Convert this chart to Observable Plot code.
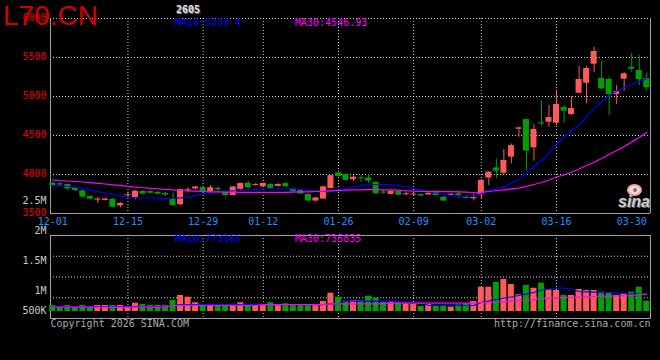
<!DOCTYPE html>
<html><head><meta charset="utf-8">
<script src="https://cdn.jsdelivr.net/npm/d3@7"></script>
<script src="https://cdn.jsdelivr.net/npm/@observablehq/plot@0.6"></script>
<style>
html,body{margin:0;padding:0;background:#000;}
#chart{position:relative;width:660px;height:360px;background:#000;overflow:hidden;font-family:"DejaVu Sans Mono",monospace;}
#chart svg{position:absolute;left:0;top:0;}
.lbl{position:absolute;font-size:10px;line-height:10px;white-space:nowrap;font-family:"DejaVu Sans Mono",monospace;}
</style></head><body><div id="chart"></div>
<script>
// ---------- data ----------
const dates = [
 "12-01","12-02","12-03","12-04","12-05","12-08","12-09","12-10","12-11","12-12",
 "12-15","12-16","12-17","12-18","12-19","12-22","12-23","12-24","12-25","12-26",
 "12-29","12-30","12-31","01-05","01-06","01-07","01-08","01-09","01-12","01-13",
 "01-14","01-15","01-16","01-19","01-20","01-21","01-22","01-23","01-26","01-27",
 "01-28","01-29","01-30","02-02","02-03","02-04","02-05","02-06","02-09","02-10",
 "02-11","02-12","02-13","02-24","02-25","02-26","02-27","03-02","03-03","03-04",
 "03-05","03-06","03-09","03-10","03-11","03-12","03-13","03-16","03-17","03-18",
 "03-19","03-20","03-23","03-24","03-25","03-26","03-27","03-30","03-31","04-01"];
const open = [
 3889,3880,3872,3830,3790,3718,3672,3668,3682,3598, 3728,3703,3782,3780,3770,3756,3690,3612,3792,3815,
 3832,3778,3822,3772,3732,3810,3888,3860,3842,3872, 3848,3885,3815,3795,3745,3660,3685,3820,4020,4000,
 3935,3958,3955,3900,3775,3745,3782,3740,3736,3742, 3738,3785,3710,3735,3752,3720,3690,3740,3955,4085,
 4017,4222,4580,4705,4342,4662,4670,4658,4860,4770, 5042,5170,5414,5231,5218,5026,5222,5376,5333,5231];
const high = [
 3900,3898,3880,3842,3800,3730,3705,3692,3690,3640, 3775,3792,3795,3790,3782,3772,3765,3812,3830,3845,
 3840,3858,3842,3790,3845,3890,3908,3885,3890,3880, 3885,3890,3825,3800,3752,3708,3850,3990,4045,4005,
 3985,3990,4000,3905,3795,3790,3790,3768,3760,3752, 3765,3790,3715,3752,3790,3725,3745,3935,4035,4200,
 4320,4390,4605,4710,4640,4940,4885,5085,4885,5000, 5385,5385,5632,5449,5248,5140,5304,5555,5526,5304];
const low = [
 3850,3842,3790,3780,3700,3670,3630,3660,3575,3573, 3700,3676,3738,3752,3738,3720,3592,3600,3772,3810,
 3770,3770,3770,3712,3725,3800,3818,3850,3838,3810, 3840,3835,3768,3740,3655,3645,3680,3815,3968,3918,
 3910,3900,3885,3748,3745,3740,3730,3725,3728,3712, 3735,3722,3655,3730,3695,3688,3660,3690,3860,3945,
 3985,4137,4478,4050,4170,4620,4605,4628,4658,4755, 5035,4907,5304,5090,4756,4897,5068,5312,5140,5068];
const close = [
 3860,3866,3815,3795,3710,3684,3686,3686,3580,3628, 3740,3786,3748,3760,3748,3736,3602,3806,3804,3840,
 3775,3830,3804,3730,3840,3885,3830,3872,3885,3822, 3872,3842,3780,3750,3660,3700,3842,3985,3975,3925,
 3965,3946,3915,3753,3762,3785,3735,3752,3748,3725, 3758,3730,3660,3748,3730,3695,3705,3925,4030,4043,
 4180,4370,4598,4300,4577,4648,4730,4897,4812,4846, 5218,5359,5577,5099,5026,5064,5291,5350,5214,5112];
const ma10 = [
 3860,3853,3847,3834,3821,3802,3782,3763,3744,3725, 3709,3701,3699,3699,3696,3690,3692,3700,3712,3732,
 3752,3770,3776,3782,3789,3795,3804,3808,3812,3817, 3817,3817,3815,3808,3795,3786,3782,3786,3802,3821,
 3847,3860,3868,3872,3872,3868,3860,3840,3817,3802, 3782,3763,3744,3725,3718,3718,3725,3753,3790,3817,
 3838,3889,3932,4017,4103,4180,4274,4394,4478,4564, 4628,4744,4842,4936,5013,5068,5112,5154,5190,5228];
const ma30 = [
 3927,3923,3917,3910,3904,3897,3885,3878,3868,3860, 3847,3838,3830,3821,3815,3808,3802,3795,3791,3786,
 3782,3778,3776,3773,3773,3772,3772,3771,3771,3771, 3771,3772,3773,3776,3778,3782,3786,3791,3795,3799,
 3802,3804,3805,3805,3804,3802,3799,3791,3786,3782, 3782,3781,3781,3780,3778,3773,3769,3773,3782,3795,
 3804,3815,3825,3847,3872,3897,3930,3968,3994,4032, 4071,4116,4158,4205,4256,4308,4359,4415,4475,4540];
const volume = [
 756000,718000,756000,718000,756000,723000,756000,756000,756000,756000,
 728000,794000,772000,756000,756000,756000,839000,922000,894000,801000,
 772000,772000,772000,772000,772000,801000,756000,756000,756000,801000,
 772000,784000,756000,756000,756000,756000,822000,960000,894000,827000,
 839000,839000,910000,877000,811000,811000,801000,784000,772000,739000,
 772000,739000,739000,728000,767000,784000,822000,1060000,1060000,1138000,
 1188000,1105000,934000,1088000,1043000,1126000,1017000,1005000,922000,922000,
 1022000,1005000,1005000,977000,960000,922000,950000,977000,1060000,827000];
const volMa10 = [
 739000,739000,739000,739000,739000,739000,739000,739000,739000,739000,
 739000,739000,739000,739000,739000,739000,756000,772000,772000,772000,
 772000,772000,772000,772000,772000,772000,772000,772000,772000,772000,
 772000,772000,772000,772000,772000,772000,772000,784000,784000,827000,
 827000,827000,827000,827000,827000,827000,827000,801000,801000,801000,
 756000,756000,756000,756000,756000,756000,756000,806000,831000,855000,
 880000,897000,922000,950000,972000,1013000,1030000,1043000,1043000,1030000,
 988000,983000,977000,972000,972000,967000,955000,950000,944000,944000];
const volMa30 = [
 728000,728000,728000,728000,728000,728000,728000,728000,728000,728000,
 728000,728000,728000,728000,728000,728000,756000,756000,756000,756000,
 756000,756000,756000,756000,756000,756000,756000,756000,772000,772000,
 772000,772000,772000,772000,772000,772000,772000,784000,784000,784000,
 784000,784000,784000,784000,784000,794000,794000,794000,794000,794000,
 794000,794000,794000,794000,794000,794000,794000,806000,811000,814000,
 817000,827000,839000,847000,850000,864000,877000,884000,889000,889000,
 894000,900000,905000,910000,910000,914000,917000,922000,939000,944000];
const priceTicks = [3500, 4000, 4500, 5000, 5500, 6000];
const volTicks = [1000000, 1500000, 2000000, 2500000];
const volLowTick = [500000];
const volFloor = 656000;
const dateTicks = ["12-01","12-15","12-29","01-12","01-26","02-09","03-02","03-16","03-30"];
const symbolText = "2605";
const watermarkText = "L70.CN";
const priceLegend = ["MA10:5233.4", "MA30:4546.93"];
const volLegend = ["MA10:773165", "MA30:735835"];
const footerLeft = "Copyright 2026 SINA.COM";
const footerRight = "http://finance.sina.com.cn";

// ---------- build ----------
const RED = "#ff5a5a", GREEN = "#00a000", BLUE = "#0000ff", MAG = "#ff00ff";
const GRID = {stroke: "#c8c8c8", strokeOpacity: 1, strokeDasharray: "1,2"};
const rows = dates.map((d, i) => ({i, date: d, open: open[i], high: high[i], low: low[i], close: close[i],
  ma10: ma10[i], ma30: ma30[i], volume: volume[i], volMa10: volMa10[i], volMa30: volMa30[i]}));
const col = d => d.close >= d.open ? RED : GREEN;
const tickIdx = dateTicks.map(d => dates.indexOf(d));
const gridIdx = tickIdx.slice(1, -1);
const xDomain = [-0.3, 79.5];
const W = 660, H = 330;
const baseStyle = {background: "transparent", color: "#ccc", fontFamily: "DejaVu Sans Mono", fontSize: "10px", overflow: "visible"};
const x1 = d => d.i - 0.4, x2 = d => d.i + 0.4;
const fmtVol = v => v >= 1000000 ? (v / 1000000) + "M" : (v / 1000) + "K";

const gridLayer = Plot.plot({
  width: W, height: H, marginTop: 235, marginBottom: 12, marginLeft: 50, marginRight: 10,
  x: {domain: xDomain, axis: null}, y: {domain: [0, 4], axis: null},
  style: {...baseStyle, background: "#000"},
  marks: [
    Plot.gridY([1, 2, 3], GRID),
    Plot.gridX(gridIdx, GRID),
    Plot.frame({stroke: "#a0a0a0"}),
    Plot.text([footerLeft], {text: d => d, frameAnchor: "bottom-left", textAnchor: "start", lineAnchor: "top", dy: 1, fill: "#a8a8a8"}),
    Plot.text([footerRight], {text: d => d, frameAnchor: "bottom-right", textAnchor: "end", lineAnchor: "top", dy: 1, fill: "#a8a8a8"})
  ]
});

const pricePlot = Plot.plot({
  width: W, height: H, marginTop: 18, marginBottom: 117, marginLeft: 50, marginRight: 10,
  x: {domain: xDomain, axis: null}, y: {domain: [3500, 6000], axis: null},
  color: {type: "identity"},
  style: baseStyle,
  marks: [
    Plot.gridY(priceTicks.slice(1), GRID),
    Plot.gridX(gridIdx, GRID),
    Plot.ruleX(xDomain, {stroke: "#a0a0a0"}),
    Plot.ruleY([priceTicks[0]], {stroke: "#a0a0a0"}),
    Plot.ruleX(rows, {x: "i", y1: "low", y2: "high", stroke: col}),
    Plot.rect(rows, {x1, x2, y1: "open", y2: "close", fill: col}),
    Plot.line(rows, {x: "i", y: "ma10", stroke: BLUE, strokeWidth: 1.2}),
    Plot.line(rows, {x: "i", y: "ma30", stroke: MAG, strokeWidth: 1.2}),
    Plot.axisY(priceTicks, {tickSize: 0, tickPadding: 4, fill: "#e80000", label: null, tickFormat: d => String(d), dy: -1}),
    Plot.axisX(tickIdx, {tickSize: 0, tickPadding: 4, tickFormat: i => dates[i], fill: "#1e90ff", label: null})
  ]
});

const volPlot = Plot.plot({
  width: W, height: H, marginTop: 200, marginBottom: 39.7, marginLeft: 50, marginRight: 10,
  x: {domain: xDomain, axis: null}, y: {domain: [1000000, 2500000], axis: null},
  color: {type: "identity"},
  style: baseStyle,
  marks: [
    Plot.rect(rows, {x1, x2, y1: volFloor, y2: "volume", fill: col}),
    Plot.line(rows, {x: "i", y: "volMa10", stroke: BLUE, strokeWidth: 1.2}),
    Plot.line(rows, {x: "i", y: "volMa30", stroke: MAG, strokeWidth: 1.2}),
    Plot.axisY(volTicks, {tickSize: 0, tickPadding: 4, fill: "#c8c8c8", tickFormat: fmtVol, label: null}),
    Plot.axisY(volLowTick, {tickSize: 0, tickPadding: 4, fill: "#c8c8c8", tickFormat: fmtVol, label: null, dy: -10})
  ]
});

const chart = document.getElementById("chart");
chart.append(gridLayer, pricePlot, volPlot);

function label(text, left, top, color, extra) {
  const el = document.createElement("div");
  el.className = "lbl";
  el.textContent = text;
  el.style.left = left + "px";
  el.style.top = top + "px";
  el.style.color = color;
  if (extra) Object.assign(el.style, extra);
  chart.append(el);
  return el;
}
label(priceLegend[0], 175, 18, BLUE);
label(priceLegend[1], 295, 18, MAG);
label(volLegend[0], 175, 234, BLUE);
label(volLegend[1], 295, 234, MAG);
label(symbolText, 176, 5, "#e0e0e0", {textShadow: "1px 1px 0 #777", fontWeight: "bold"});
// sina logo
const eye = document.createElement("div");
Object.assign(eye.style, {position: "absolute", left: "627px", top: "184px", width: "11px", height: "8px",
  border: "2px solid #f2a8a8", borderRadius: "50%", background: "#fbd8d8"});
const pupil = document.createElement("div");
Object.assign(pupil.style, {position: "absolute", left: "4px", top: "2px", width: "4px", height: "4px",
  borderRadius: "50%", background: "#777"});
eye.append(pupil);
chart.append(eye);
label("sina", 618, 194, "#cfcfcf", {fontFamily: "Liberation Sans", fontWeight: "bold", fontStyle: "italic",
  fontSize: "16px", lineHeight: "16px", textShadow: "1px 1px 0 #666"});
label(watermarkText, 3, 2, "#d40000", {fontFamily: "Liberation Sans", fontSize: "28px", lineHeight: "28px"});
</script>
</body></html>
